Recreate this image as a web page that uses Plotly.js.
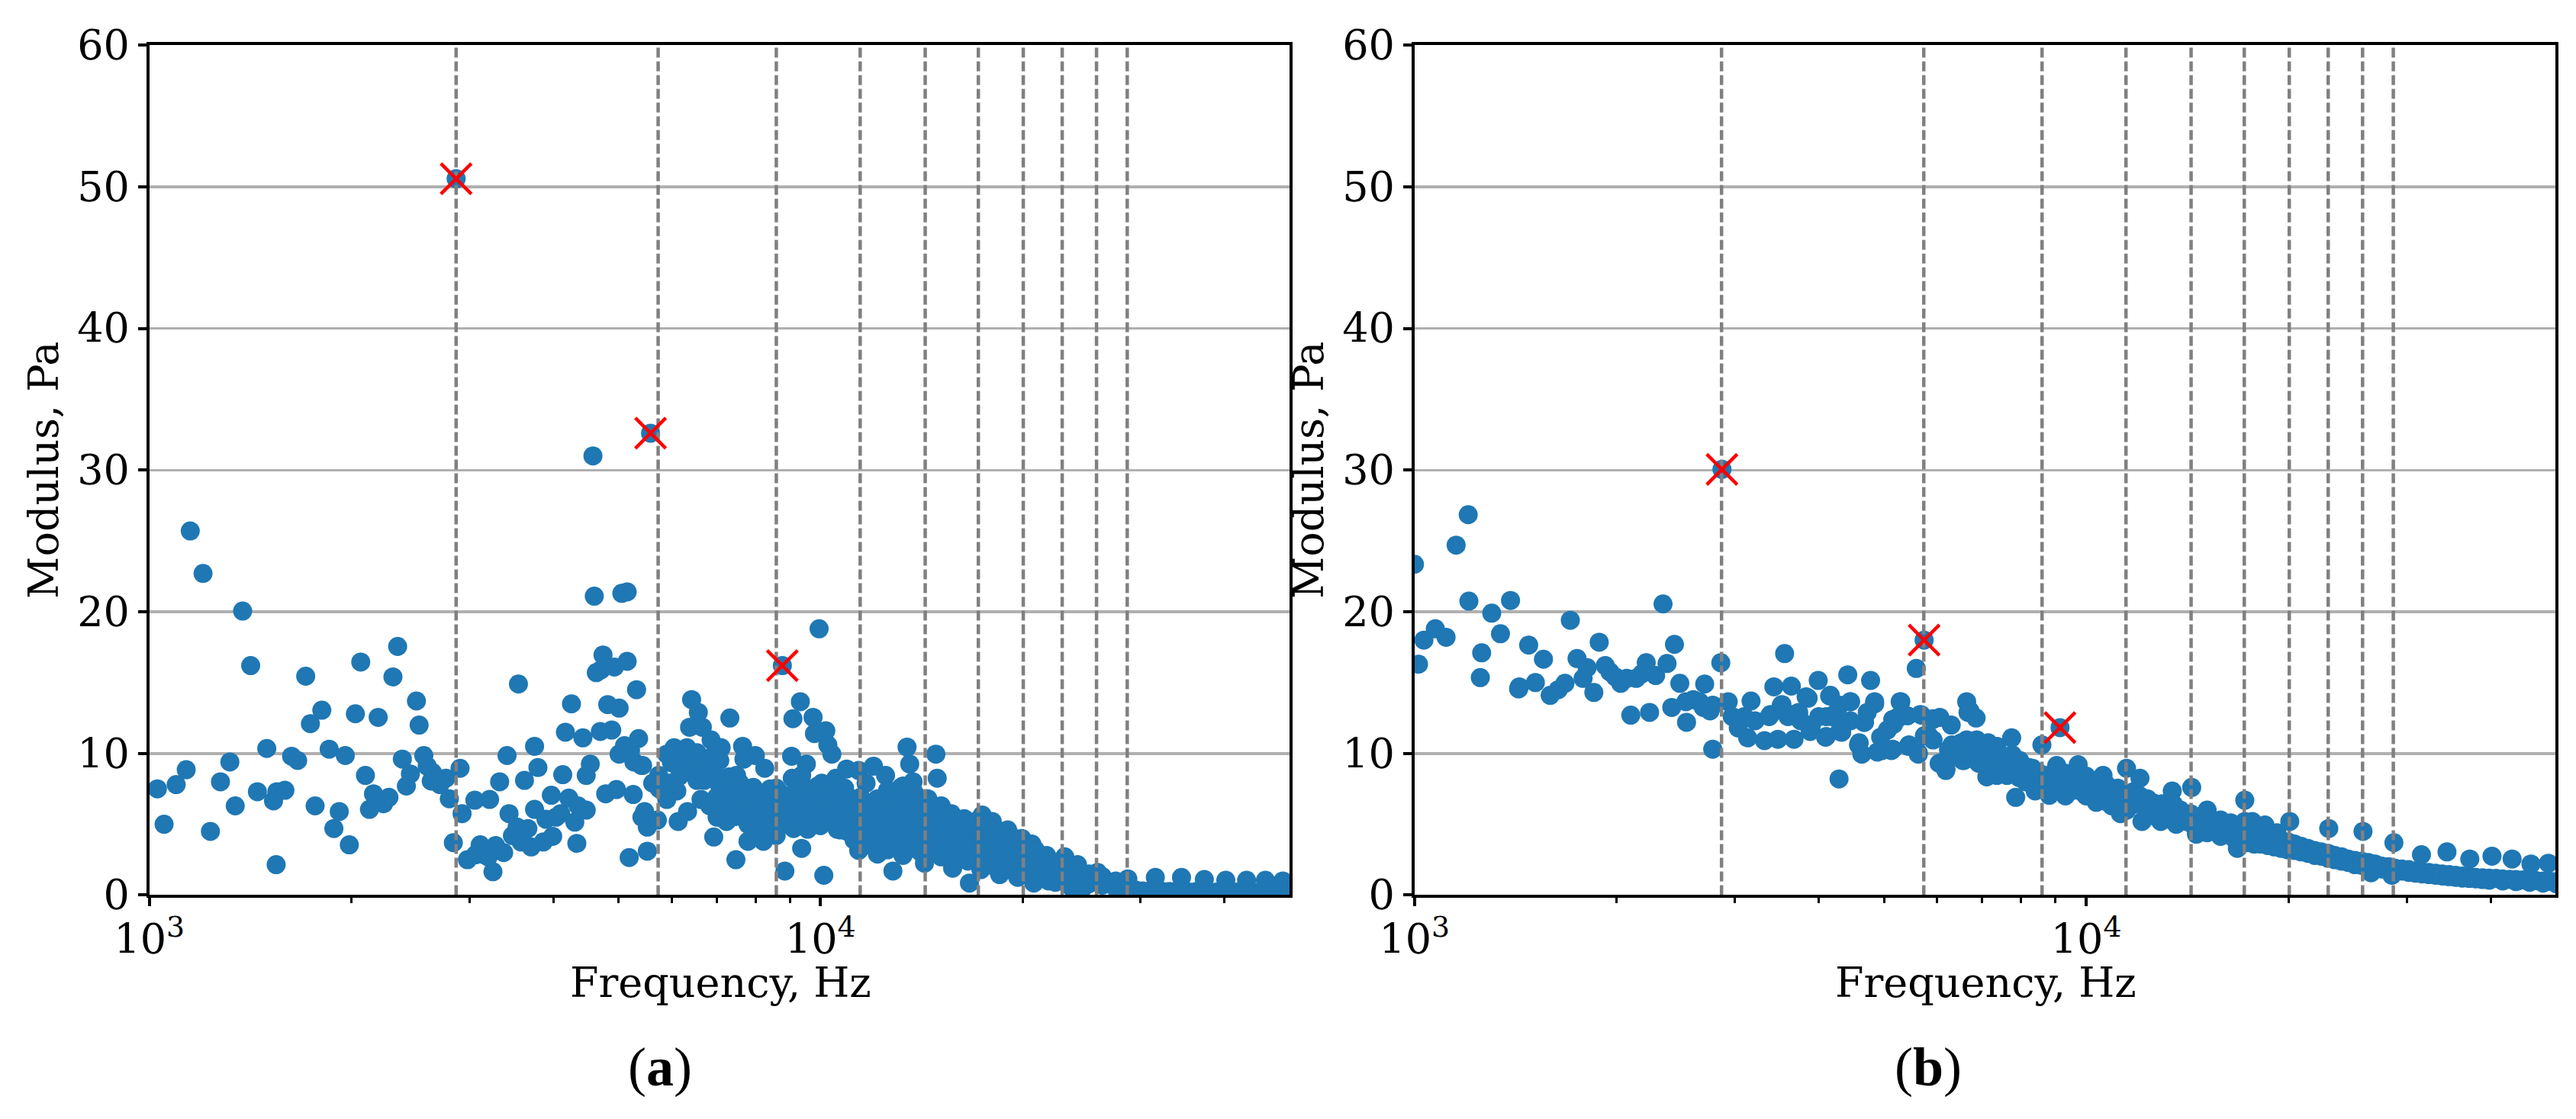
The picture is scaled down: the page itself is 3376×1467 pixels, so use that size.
<!DOCTYPE html>
<html><head><meta charset="utf-8"><script src="https://cdn.plot.ly/plotly-3.0.0.min.js"></script>
<style>html,body{margin:0;padding:0;background:#fff}</style></head><body><div id="c" style="width:3376px;height:1467px"></div>
<script>
// Each pair: [decades above 1 kHz on the log axis, modulus in Pa]
const lowA=[[.012,7.5],[.022,5],[.04,7.8],[.055,8.85],[.061,25.7],[.08,22.7],[.091,4.5],[.106,8],[.12,9.4],[.128,6.3],[.139,20.05],[.151,16.2],[.161,7.3],[.175,10.35],[.185,6.65],[.189,2.15],[.19,7.3],[.202,7.4],[.212,9.8],[.221,9.5],[.233,15.45],[.24,12.1],[.247,6.3],[.257,13.05],[.268,10.3],[.275,4.7],[.283,5.9],[.292,9.85],[.298,3.55],[.307,12.8],[.315,16.45],[.322,8.45],[.328,6.05],[.334,7.15],[.341,12.55],[.349,6.45],[.357,6.9],[.363,15.4],[.37,17.55],[.377,9.6],[.383,7.7],[.389,8.55],[.398,13.7],[.402,12],[.409,9.85],[.414,9.1],[.422,8.65],[.42,8.05],[.43,8],[.433,7.8],[.442,8.25],[.447,6.8],[.453,3.7],[.463,8.95],[.466,5.75],[.474,2.5],[.485,6.7],[.493,3.55],[.486,2.85],[.499,2.85],[.507,6.75],[.512,1.65],[.516,3.5],[.505,2.7],[.528,3],[.522,8],[.533,9.85],[.536,5.75],[.541,4.2],[.55,14.9],[.548,4.8],[.554,3.75],[.559,8.1],[.564,4.7],[.569,3.4],[.574,10.5],[.574,6.05],[.579,9],[.587,3.75],[.591,5.35],[.599,7.05],[.601,4.15],[.606,5.5],[.616,8.5],[.613,5.75],[.62,11.5],[.625,6.85],[.629,13.5],[.634,5.15],[.637,3.65],[.639,6.3],[.646,11.1],[.651,6],[.651,8.45],[.657,9.25],[.661,31],[.663,21.1],[.666,15.7],[.673,15.9],[.676,16.95],[.672,11.55],[.68,7.15],[.683,13.45],[.689,11.65],[.693,16.1],[.696,7.45],[.7,13.2],[.7,9.95],[.704,21.3],[.712,21.4],[.712,16.5],[.708,10.55],[.715,2.65],[.721,7.1],[.717,10.2],[.726,14.5],[.722,9.4],[.729,11.05],[.735,9.15],[.734,5.5],[.738,5.9],[.742,3.1],[.742,4.8],[.733,9.15]];
const midA=[[.757,5.3],[.788,5.2],[.802,5.9],[.841,4.1],[.874,2.5],[.808,13.8],[.818,12.9],[.805,11.85],[.824,11.85],[.865,12.5],[.837,10.95],[.852,10.4],[.782,10.4],[.771,9.95],[.801,10.4],[.778,9.35],[.816,10.05],[.835,9.7],[.85,9.5],[.801,8.8],[.816,8.1],[.827,8.1],[.759,8.45],[.774,7.9],[.786,7.35],[.771,6.75],[.75,7.9],[.822,6.75],[.845,6.9],[.835,6.3],[.846,5.5],[.875,8.45],[.864,8.35],[.884,10.5],[.886,9.6],[.903,9.85],[.917,8.95],[.9,7.6],[.869,7.2],[.884,6.8],[.873,5.55],[.896,5.75],[.892,5],[.892,3.8],[.915,3.8],[.907,4.7],[.934,4.2],[.945,6.65],[.953,7],[.957,9.8],[.979,9.25],[.958,8.25],[.972,8.45],[.953,5.75],[.981,4.65],[.972,3.3],[.947,1.7],[1.005,1.4],[.97,13.65],[.959,12.45],[.989,12.55],[.991,11.4],[1.008,11.6],[1.011,10.6],[1.017,9.95],[.998,18.8],[.934,7.55],[.907,6.65],[.922,6.1],[.968,6.1],[.991,7.55],[.998,5.75],[1.013,6.45],[1.025,4.85],[1.023,8.25],[1.002,7.9],[.981,7],[.926,5],[.972,5.2],[.86,7.5],[.86,6.2],[.86,5.2],[.88,7.9],[.88,6],[.9,6.8],[.9,5.2],[.9,4.4],[.91,7.1],[.91,5.9],[.91,4.9],[.93,6.5],[.93,5.4],[.93,4.6],[.94,7.2],[.94,5.9],[.94,4.9],[.96,6.8],[.96,5.2],[.97,7.4],[.97,5.8],[.99,6.4],[.99,5.1],[1,7.2],[1,5.6],[1,4.9],[1.01,6.8],[1.01,6],[1.01,5.2],[1.02,7.3],[1.02,5.7],[1.03,6.8],[1.03,5],[1.03,6.2],[.76,7.5],[.78,7.9],[.795,9.5],[.81,9.3],[.825,9],[.84,8.9],[.79,8.4],[.85,7.7],[.855,8.2],[.87,6.5],[.88,7.3],[.89,6.1],[.9,5.5],[.915,6.9],[.925,7.5],[.93,4.9],[.95,5.3],[.96,4.7],[.975,6.7],[.985,5.6],[1,6.5],[1.02,6.4],[1.015,7.6],[1.04,6.9],[1.035,6.3],[1.03,4.6],[1.045,5.4],[1.055,6.2],[1.065,5.2],[1.075,4.4]];
const highA=[[1.039,8.9],[1.057,8.8],[1.079,9.1],[1.068,7.9],[1.097,8.45],[.996,7.7],[1.036,7.55],[1.129,10.45],[1.133,9.25],[1.172,9.95],[1.174,8.25],[1.138,8],[1.123,7.7],[1.121,7],[1.085,6.8],[1.076,6.4],[1.1,6.1],[1.14,6.8],[1.169,6.3],[1.18,6.3],[1.195,5.75],[1.214,5.4],[1.241,5.65],[1.256,5.2],[1.279,4.6],[1.315,3.6],[1.337,2.8],[1.364,2.7],[1.383,2.15],[1.413,1.6],[1.025,4.65],[1.057,3.15],[1.085,2.9],[1.108,1.7],[1.123,2.8],[1.155,2.25],[1.197,1.9],[1.222,.85],[1.239,1.8],[1.267,1.45],[1.294,1.25],[1.318,.85],[1.36,1.05],[1.374,.55],[1.392,.55],[1.421,.9],[1.047,6.8],[1.04,5.5],[1.04,4.5],[1.05,6.6],[1.05,5],[1.05,3.9],[1.06,6.9],[1.06,4.4],[1.06,5.7],[1.07,6],[1.07,4.9],[1.07,3.7],[1.08,5.3],[1.08,3.4],[1.08,4.3],[1.09,6.5],[1.09,4.7],[1.09,3.6],[1.1,7.4],[1.1,5.4],[1.1,4.1],[1.1,3.2],[1.11,6.3],[1.11,4.8],[1.11,3.6],[1.12,7.6],[1.12,5.6],[1.12,4.2],[1.12,3.2],[1.13,6.6],[1.13,5],[1.13,3.8],[1.14,7.2],[1.14,5.7],[1.14,4.4],[1.14,3.3],[1.15,6.2],[1.15,4.8],[1.15,3],[1.16,6.8],[1.16,5.4],[1.16,3.9],[1.17,5.9],[1.17,4.6],[1.17,3.2],[1.18,5.2],[1.18,3.9],[1.18,2.7],[1.19,5.6],[1.19,4.4],[1.19,3.2],[1.2,4.9],[1.2,3.7],[1.2,2.5],[1.21,5.1],[1.21,4.1],[1.21,3],[1.22,4.5],[1.22,3.4],[1.22,2.4],[1.23,4.9],[1.23,3.8],[1.23,2.7],[1.23,5.2],[1.24,4.2],[1.24,3.1],[1.25,4.8],[1.25,3.5],[1.25,2.5],[1.26,4.1],[1.26,3],[1.26,2],[1.27,4.5],[1.27,3.2],[1.27,2.2],[1.28,3.8],[1.28,2.7],[1.28,1.8],[1.29,4],[1.29,3],[1.29,2],[1.3,3.4],[1.3,2.4],[1.3,1.6],[1.3,4],[1.31,3],[1.31,2],[1.32,3.2],[1.32,2.3],[1.32,1.4],[1.33,2.6],[1.33,1.7],[1.34,2.5],[1.34,1.6],[1.34,1],[1.35,2.3],[1.35,1.4],[1.35,.9],[1.36,2],[1.36,1.2],[1.37,1.9],[1.37,1],[1.38,1.7],[1.38,.9],[1.39,1.5],[1.39,.7],[1.4,1.5],[1.4,.8],[1.42,1.3],[1.42,.7],[1.44,1],[1.44,.5]];
const tailA=[[1.458,1.15],[1.499,1.25],[1.538,1.25],[1.572,1.1],[1.604,1.05],[1.635,1.05],[1.663,1.05],[1.689,1],[1.45,.3],[1.46,.6],[1.47,.35],[1.48,.3],[1.49,.28],[1.5,.3],[1.51,.26],[1.52,.25],[1.53,.28],[1.54,.24],[1.55,.22],[1.56,.25],[1.57,.22],[1.58,.2],[1.59,.22],[1.6,.2],[1.61,.2],[1.62,.22],[1.63,.2],[1.64,.2],[1.65,.18],[1.66,.2],[1.67,.18],[1.68,.2],[1.69,.18],[1.7,.18]];
const lowB=[[0,23.35],[.006,16.3],[.014,18],[.031,18.8],[.047,18.2],[.062,24.7],[.08,26.85],[.081,20.75],[.098,15.35],[.1,17.1],[.115,19.9],[.128,18.45],[.143,20.8],[.155,14.55],[.156,14.7],[.17,17.65],[.18,15],[.192,16.65],[.202,14.1],[.214,14.5],[.224,14.95],[.232,19.4],[.242,16.7],[.251,15.3],[.257,16.05],[.267,14.3],[.275,17.85],[.284,16.2],[.291,15.75],[.299,15.4],[.307,14.95],[.316,15.3],[.322,12.7],[.33,15.3],[.338,15.6],[.345,16.4],[.35,12.9],[.359,15.5],[.37,20.55],[.376,16.35],[.383,13.25],[.387,17.7],[.395,14.95],[.405,12.2],[.404,13.65],[.415,13.8],[.424,13.65],[.432,14.9],[.43,13.25],[.44,13],[.444,10.3],[.444,13.4],[.456,16.4],[.467,13.65],[.473,12.6],[.482,11.8],[.491,12.6],[.496,11.1],[.501,13.7],[.507,12.3],[.521,10.9],[.528,12.6],[.535,14.7],[.541,11],[.546,13.4],[.551,17.05],[.556,12.6],[.561,14.75],[.565,11],[.575,12.3],[.586,13.9],[.589,11.55],[.601,15.15],[.602,12.6],[.612,11.15],[.618,14.05],[.621,12.6],[.633,11.55],[.632,8.2],[.633,13.4],[.645,15.55],[.649,13.65],[.649,12.3],[.661,10.6],[.666,9.95],[.669,12.2],[.679,15.15],[.685,13.5],[.689,10.1],[.694,11.15],[.71,10.2],[.713,12.05],[.724,13.65],[.719,12.45],[.735,10.5],[.747,16],[.75,10.05],[.755,12.7],[.759,11.25],[.772,12.45],[.781,9.3]];
const midB=[[.547,13.45],[.56,12.75],[.53,12.75],[.583,14],[.572,12.9],[.591,12],[.613,12.6],[.628,12.9],[.613,11.2],[.636,11.5],[.649,13.65],[.632,12.4],[.619,14.1],[.685,13.65],[.67,12.2],[.674,12.9],[.662,10.75],[.704,11.65],[.712,12.4],[.723,13.65],[.719,12.55],[.734,12.65],[.696,10.2],[.712,10.3],[.736,10.6],[.772,10.95],[.782,12.55],[.772,12.4],[.799,12],[.784,9.35],[.791,8.9],[.753,12.75],[.75,9.95],[.765,11.3],[.795,10.25],[.818,9.5],[.822,13.65],[.824,12.9],[.814,10.75],[.827,13],[.836,12.5],[.791,8.8],[.816,9.5],[.822,10.95],[.837,10.95],[.854,10.75],[.867,10.5],[.889,11.1],[.806,10.4],[.829,10.05],[.848,9.5],[.852,8.35],[.867,8.45],[.882,8.45],[.895,6.9],[.893,8.95],[.901,9.5],[.92,8.95],[.934,10.6],[.924,7.35],[.943,8.45],[.945,7.05],[.956,9.15],[.988,9.2],[.969,8.6],[.969,7],[.992,8.45],[.996,7.2],[1.025,8.45],[1.015,7.55],[1.015,6.55],[1.034,7.2],[1.047,7.55],[1.038,6.3],[1.051,5.75],[1.06,8.95],[1.08,8.25],[1.072,6.8],[1.083,5.2],[1.091,6.8],[1.111,5.2],[1.113,6.45],[1.128,7.35],[1.134,5],[1.157,7.6],[1.155,5.75],[1.164,4.3],[1.18,6],[1.181,4.65],[1.2,4.15],[1.212,5],[1.225,3.3],[1.236,6.7],[1.236,5.2],[1.242,3.95],[.81,10],[.83,9.7],[.84,10.2],[.86,9.8],[.87,9.2],[.88,9.6],[.89,9.9],[.9,8.3],[.91,8.7],[.91,8],[.95,8],[.96,7.6],[.98,8],[.98,7.4],[1,7.9],[1,7],[1.03,7.8],[1.03,6.6],[1.06,7],[1.06,6],[1.09,6.2],[1.1,6.5],[1.1,5.6],[1.12,6.2],[1.12,5.4],[1.14,6],[1.14,5.3],[1.16,5.6],[1.16,4.9],[1.18,5.4],[1.18,4.4],[1.2,5.3],[1.2,4.6],[1.22,4.8],[1.22,4],[1.247,5.2],[1.266,4.95],[1.284,4.4],[.8,10.6],[.8,9.8],[.82,10.1],[.84,9.3],[.86,9],[.875,9.7],[.89,8.8],[.905,8.5],[.915,9],[.93,8.6],[.93,7.8],[.945,7.8],[.955,8.4],[.965,8],[.975,7.6],[.985,7.7],[1,8.4],[1.01,7.9],[1.02,7.2],[1.03,7],[1.04,6.9],[1.05,6.6],[1.07,7.3],[1.07,6.4],[1.08,7],[1.09,6],[1.1,6.1],[1.105,5.9],[1.12,5.8],[1.13,6.4],[1.13,5.8],[1.145,5.6],[1.15,5.2],[1.17,5.4],[1.17,5],[1.19,5.1],[1.19,4.7],[1.21,4.5],[1.215,5.1],[1.23,4.5],[1.23,4]];
const tailB=[[1.303,5.2],[1.361,4.7],[1.412,4.5],[1.458,3.7],[1.499,2.85],[1.537,3.05],[1.571,2.55],[1.604,2.75],[1.634,2.55],[1.662,2.2],[1.688,2.25],[1.24,4.5],[1.24,3.7],[1.25,4.4],[1.25,3.6],[1.26,4.2],[1.26,3.6],[1.27,4.1],[1.27,3.5],[1.28,3.9],[1.28,3.4],[1.29,3.8],[1.29,3.3],[1.3,3.75],[1.3,3.2],[1.31,3.6],[1.31,3.15],[1.32,3.45],[1.32,3.05],[1.33,3.3],[1.33,2.95],[1.34,3.15],[1.34,2.8],[1.35,3.05],[1.35,2.75],[1.36,2.95],[1.36,2.6],[1.37,2.8],[1.37,2.5],[1.38,2.7],[1.38,2.4],[1.39,2.55],[1.39,2.3],[1.4,2.45],[1.4,2.15],[1.41,2.4],[1.41,2.1],[1.42,2.3],[1.42,2],[1.424,1.58],[1.43,2.2],[1.43,1.95],[1.44,2.05],[1.44,1.85],[1.45,2],[1.45,1.8],[1.455,1.4],[1.46,1.9],[1.46,1.75],[1.47,1.85],[1.47,1.7],[1.48,1.8],[1.48,1.6],[1.49,1.7],[1.49,1.55],[1.5,1.65],[1.5,1.5],[1.51,1.6],[1.51,1.45],[1.52,1.55],[1.52,1.4],[1.53,1.5],[1.53,1.35],[1.54,1.45],[1.54,1.3],[1.55,1.4],[1.55,1.25],[1.56,1.35],[1.56,1.2],[1.57,1.3],[1.57,1.18],[1.58,1.25],[1.58,1.15],[1.59,1.22],[1.59,1.1],[1.6,1.2],[1.6,1.05],[1.61,1.18],[1.62,1.15],[1.62,1],[1.63,1.12],[1.64,1.1],[1.64,.95],[1.65,1.08],[1.66,1.05],[1.66,.9],[1.67,1.02],[1.68,1],[1.68,.85],[1.69,.98],[1.7,.95],[1.7,.8]];
const crossFreqA=[2865,5583,8775], crossModA=[50.56,32.6,16.2];
const crossFreqB=[2869,5737,9140], crossModB=[30.05,18,11.82];
const harmonics=[2865,5730,8595,11460,14325,17190,20055,22920,25785,28650];
const yTicks=[0,10,20,30,40,50,60];
const xTickVals=[1000,10000], xTickText=['10<sup>3</sup>','10<sup>4</sup>'];
const xMinor=[2000,3000,4000,5000,6000,7000,8000,9000,20000,30000,40000];
const xLabel='Frequency, Hz', yLabel='Modulus, Pa', panelA='(<b>a</b>)', panelB='(<b>b</b>)';

const BLUE='#1f77b4', SERIF='"DejaVu Serif", serif';
const hz=d=>1000*Math.pow(10,d);
function panel(pts,cf,cm,xa,ya){
  const vx=[],vy=[];harmonics.forEach(f=>{vx.push(f,f,null);vy.push(0,60,null)});
  return [
   {type:'scatter',mode:'markers',x:pts.map(p=>hz(p[0])).concat(cf),y:pts.map(p=>p[1]).concat(cm),xaxis:xa,yaxis:ya,marker:{color:BLUE,size:25,line:{width:0}},showlegend:false,hoverinfo:'skip'},
   {type:'scatter',mode:'lines',x:vx,y:vy,xaxis:xa,yaxis:ya,line:{color:'#808080',width:4.5,dash:'13px,5px'},showlegend:false,hoverinfo:'skip'},
   {type:'scatter',mode:'markers',x:cf,y:cm,xaxis:xa,yaxis:ya,marker:{symbol:'x-thin',size:40,color:'#ff0000',line:{color:'#ff0000',width:4.5}},showlegend:false,hoverinfo:'skip'}
  ];
}
function xAxis(dom,anchor){return {type:'log',domain:dom,anchor:anchor,range:[3,Math.log10(50000)],tickmode:'array',tickvals:xTickVals,ticktext:xTickText,ticks:'outside',ticklen:11,tickwidth:4,tickcolor:'#000',showline:true,mirror:true,linecolor:'#000',linewidth:4,showgrid:false,zeroline:false,ticklabelstandoff:-3,
  minor:{ticks:'outside',ticklen:7,tickwidth:3,tickcolor:'#000',tickmode:'array',tickvals:xMinor,showgrid:false},
  tickfont:{family:SERIF,size:54,color:'#000'}}}
function yAxis(anchor){return {domain:[.20007,.95978],anchor:anchor,range:[0,60],tickmode:'array',tickvals:yTicks,ticks:'outside',ticklen:11,tickwidth:4,tickcolor:'#000',showline:true,mirror:true,linecolor:'#000',linewidth:4,showgrid:true,gridcolor:'#b0b0b0',gridwidth:3.5,zeroline:false,
  tickfont:{family:SERIF,size:54,color:'#000'},title:{text:yLabel,font:{family:SERIF,size:54,color:'#000'},standoff:8}}}
const note=(text,px,py,family,size)=>({text,xref:'paper',yref:'paper',x:px/3376,y:1-py/1467,xanchor:'center',yanchor:'middle',showarrow:false,font:{family,size,color:'#000'}});
const layout={width:3376,height:1467,margin:{l:0,r:0,t:0,b:0},paper_bgcolor:'#fff',plot_bgcolor:'#fff',showlegend:false,
 xaxis:xAxis([.05797,.5006],'y'),yaxis:yAxis('x'),xaxis2:xAxis([.5491,.99215],'y2'),yaxis2:yAxis('x2'),
 annotations:[
  note(xLabel,944.5,1288,SERIF,54),note(xLabel,2602,1288,SERIF,54),
  note(panelA,865,1399,'"Liberation Serif", serif',72),note(panelB,2527,1399,'"Liberation Serif", serif',72)
 ]};
const data=[...panel([...lowA,...midA,...highA,...tailA],crossFreqA,crossModA,'x','y'),...panel([...lowB,...midB,...tailB],crossFreqB,crossModB,'x2','y2')];
Plotly.newPlot('c',data,layout,{staticPlot:true,displayModeBar:false});
</script></body></html>
